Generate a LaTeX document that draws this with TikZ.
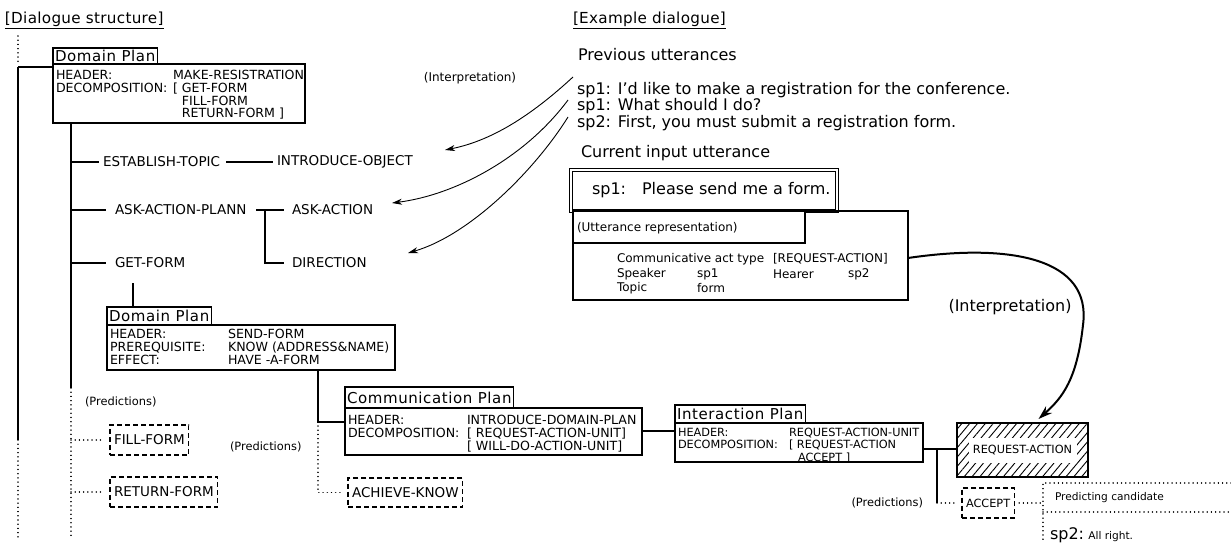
\documentclass[tikz,border=0pt]{standalone}
\usepackage{fontspec}
\setmainfont{DejaVu Sans}
\newfontfamily\spacedfont[LetterSpace=4]{DejaVu Sans}
\newfontfamily\hdrfont[LetterSpace=2]{DejaVu Sans}
\usetikzlibrary{patterns,patterns.meta,arrows.meta,calc}
\newcommand\ftH{\hdrfont\fontsize{15.2}{15}\selectfont}
\newcommand\ftR{\fontsize{16}{15}\selectfont}
\newcommand\ftT{\spacedfont\fontsize{15}{14}\selectfont}
\newcommand\ftL{\fontsize{13.5}{13}\selectfont}
\newcommand\ftB{\fontsize{12.6}{12.7}\selectfont}
\newcommand\ftS{\fontsize{11.3}{12.5}\selectfont}
\newcommand\ftP{\fontsize{11.4}{12}\selectfont}
\newcommand\ftI{\fontsize{12}{12}\selectfont}
\newcommand\ftU{\fontsize{12}{14}\selectfont}
\newcommand\ftC{\fontsize{10.6}{12}\selectfont}
\begin{document}
\begin{tikzpicture}[x=1pt,y=-1pt,
  every node/.style={inner sep=0pt, outer sep=0pt},
  ln/.style={line width=1.1pt},
  dotl/.style={line width=1.5pt, dash pattern=on 0.01pt off 4.2pt, line cap=round},
  rect/.style={draw, line width=1.1pt, anchor=north west},
  dbox/.style={draw, line width=1.2pt, dash pattern=on 5pt off 3pt, anchor=north west, inner xsep=4pt},
  ttl/.style={rect, font=\ftT, inner xsep=2pt},
  lbl/.style={anchor=west, font=\ftL},
  bt/.style={anchor=north west, align=left, font=\ftB},
  bts/.style={anchor=north west, align=left, font=\ftS},
  arr/.style={line width=0.9pt, -{Stealth[length=10pt,width=6pt,inset=3pt]}},
]
\useasboundingbox (0,0) rectangle (1231,543);

% ---------------- left headers and trunk
\node[anchor=west, font=\ftH] (hdrL) at (5,20) {\underline{[Dialogue structure]}};

\node[ttl, minimum height=16] (dp1t) at (53,48) {Domain Plan};
\node[rect, minimum width=252, minimum height=59] (dp1b) at (53,64) {};
\node[bt] (dp1k) at (56,70.5) {HEADER:\\DECOMPOSITION:};
\node[bt] (dp1v) at (173,70.5) {MAKE-RESISTRATION\\{[} GET-FORM\\\phantom{[} FILL-FORM\\\phantom{[} RETURN-FORM ]};

\coordinate (tr0) at (18,67);
\coordinate (tr1) at (18,440);
\coordinate (tr2) at (18,537);
\draw[dotl] (18,36) -- (18,63);
\draw[ln] (tr0) -- (tr0 -| dp1b.west);
\draw[ln] (tr0) -- (tr1);
\draw[dotl] (tr1) -- (tr2);

\coordinate (it0) at ($(dp1b.south west)+(18,0)$);
\coordinate (it1) at (71,388);
\coordinate (it2) at (71,537);
\draw[ln] (it0) -- (it1);
\draw[dotl] (it1) -- (it2);

% rows
\node[lbl] (est) at (103,162) {ESTABLISH-TOPIC};
\node[lbl] (io) at (277,162) {INTRODUCE-OBJECT};
\draw[ln] (est.west -| it0) -- ($(est.west)+(-4,0)$);
\draw[ln] ($(est.east)+(6,0)$) -- ($(io.west)+(-4,0)$);

\node[lbl] (aap) at (115,210) {ASK-ACTION-PLANN};
\node[lbl] (aa) at (292,210) {ASK-ACTION};
\node[lbl] (dir) at (292,263) {DIRECTION};
\node[lbl] (gf) at (115,263) {GET-FORM};
\draw[ln] (aap.west -| it0) -- ($(aap.west)+(-9,0)$);
\draw[ln] (gf.west -| it0) -- ($(gf.west)+(-9,0)$);
\coordinate (br) at (265,210);
\draw[ln] ($(aap.east)+(10,0)$) -- (br) -- (br |- dir.west) -- ($(dir.west)+(-8,0)$);
\draw[ln] (br) -- ($(aa.west)+(-8,0)$);

% second domain plan
\node[ttl, minimum height=18] (dp2t) at (107,307) {Domain Plan};
\node[rect, minimum width=288, minimum height=45] (dp2b) at (107,325) {};
\node[bt] (dp2k) at (110,329.5) {HEADER:\\PREREQUISITE:\\EFFECT:};
\node[bt] (dp2v) at (228,329.5) {SEND-FORM\\KNOW (ADDRESS\&NAME)\\HAVE -A-FORM};
\coordinate (gd) at (133,283);
\draw[ln] (gd) -- (gd |- dp2t.north);

% communication plan
\node[ttl, minimum height=21] (comt) at (345,387) {Communication Plan};
\node[rect, minimum width=297, minimum height=47] (comb) at (345,408) {};
\node[bt] (comk) at (348,415.5) {HEADER:\\DECOMPOSITION:};
\node[bt] (comv) at (467,415.5) {INTRODUCE-DOMAIN-PLAN\\{[} REQUEST-ACTION-UNIT]\\{[} WILL-DO-ACTION-UNIT]};
\coordinate (d2) at ($(dp2b.south west)+(211,0)$);
\draw[ln] (d2) |- ($(comb.north west)+(0,14)$);

% interaction plan
\node[ttl, minimum height=18] (intt) at (675,405) {Interaction Plan};
\node[rect, minimum width=248, minimum height=39] (intb) at (675,423) {};
\node[bts] (intk) at (678,428) {HEADER:\\DECOMPOSITION:};
\node[bts] (intv) at (789,428) {REQUEST-ACTION-UNIT\\{[} REQUEST-ACTION\\\hspace{9pt}ACCEPT ]};
\draw[ln] ($(comb.north east)+(0,23)$) -- ($(intb.north west)+(0,8)$);

% request-action
\node[draw, line width=2.4pt, anchor=north west, minimum width=131, minimum height=54,
      pattern={Lines[angle=50,distance=6pt,line width=0.9pt]}] (ra) at (957,423) {};
\node[fill=white, minimum width=108, minimum height=25, font=\ftS] (rat) at (ra.center) {REQUEST-ACTION};
\draw[ln] ($(intb.north east)+(0,26)$) -- ($(ra.north west)+(0,26)$);

% predictions left
\node[anchor=west, font=\ftP] (pr1) at (85,402) {(Predictions)};
\node[dbox, font=\ftL, minimum height=30] (ff) at (110,425) {FILL-FORM};
\node[dbox, font=\ftL, minimum height=30] (rf) at (110,477) {RETURN-FORM};
\draw[dotl] (ff.west -| it0) -- ($(ff.west)+(-6,0)$);
\draw[dotl] (rf.west -| it0) -- ($(rf.west)+(-6,0)$);

\node[anchor=west, font=\ftP] (pr2) at (230,447) {(Predictions)};
\node[dbox, font=\ftL, minimum height=29] (ak) at (348,478) {ACHIEVE-KNOW};
\draw[dotl] ($(d2)+(0,56)$) -- (ak.west -| d2) -- ($(ak.west)+(-5,0)$);

% predictions right
\node[dbox, font=\ftS, minimum height=30] (acc) at (962,488) {ACCEPT};
\node[anchor=east, font=\ftP] (pr3) at (923,503) {(Predictions)};
\coordinate (iv) at ($(intb.north east)+(14,26)$);
\draw[ln] (iv) -- (iv |- acc.west);
\draw[dotl] (iv |- acc.west) -- ($(acc.west)+(-4,0)$);
\coordinate (pc) at (1043,483);
\coordinate (pcb) at (1043,543);
\draw[dotl] (1231,483) -- (pc) -- (pcb);
\draw[dotl] (1043,512) -- (1231,512);
\draw[dotl] ($(acc.east)+(5,0)$) -- (acc.east -| pc);
\node[anchor=west, font=\ftC] (pct) at (1055,498) {Predicting candidate};
\node[anchor=west] (allr) at (1050,535) {{\ftR sp2:} {\ftC All right.}};

% ---------------- right side
\node[anchor=west, font=\ftH] (hdrR) at (573,20) {\underline{[Example dialogue]}};
\node[anchor=west, font=\ftR] (prevh) at (578,55) {Previous utterances};
\node[anchor=north west, align=left, font=\ftR] (prev) at (577,82) {sp1: I’d like to make a registration for the conference.\\sp1: What should I do?\\sp2: First, you must submit a registration form.};
\node[anchor=west, font=\ftR] (curh) at (581,153) {Current input utterance};

\node[draw, double, double distance=2.2pt, line width=0.8pt, anchor=north west,
      minimum width=266, minimum height=41] (cu) at (571,170) {};
\node[anchor=west, font=\ftR] (cut) at (592,190) {sp1:\hspace{16pt}Please send me a form.};

\node[rect, minimum width=335, minimum height=89] (ub) at (573,211) {};
\node[rect, minimum width=232, minimum height=32, fill=white] (urb) at (573,211) {};
\node[anchor=west, font=\ftU] (urt) at (577,228) {(Utterance representation)};
\node[anchor=west, font=\ftU] (r1a) at (617,259) {Communicative act type};
\node[anchor=west, font=\ftU] (r1b) at (773,259) {[REQUEST-ACTION]};
\node[anchor=west, font=\ftU] (r2a) at (617,274) {Speaker};
\node[anchor=west, font=\ftU] (r2b) at (697,274) {sp1};
\node[anchor=west, font=\ftU] (r2c) at (773,274) {Hearer};
\node[anchor=west, font=\ftU] (r2d) at (848,274) {sp2};
\node[anchor=west, font=\ftU] (r3a) at (617,288) {Topic};
\node[anchor=west, font=\ftU] (r3b) at (697,288) {form};

% interpretation arrows (left)
\node[font=\ftI] (interp1) at (470,78) {(Interpretation)};
\coordinate (a1) at (573,77);
\coordinate (a2) at (568,100);
\coordinate (a3) at (568,117);
\coordinate (t1) at (445,150);
\coordinate (t2) at (392,203);
\coordinate (t3) at (408,253);
\draw[arr] (a1) .. controls (535,112) and (495,140) .. (t1);
\draw[arr] (a2) .. controls (525,158) and (455,195) .. (t2);
\draw[arr] (a3) .. controls (535,170) and (470,235) .. (t3);

% interpretation arrow (right)
\draw[line width=2pt, -{Stealth[length=14pt,width=9pt]}] ($(ub.north east)+(0,47)$)
  .. controls (1010,243) and (1092,258) .. (1083,325)
  .. controls (1077,380) and (1062,398) .. ($(ra.north)+(16,-4)$);
\node[font=\ftR] (interp2) at (1010,307) {(Interpretation)};
\end{tikzpicture}
\end{document}
